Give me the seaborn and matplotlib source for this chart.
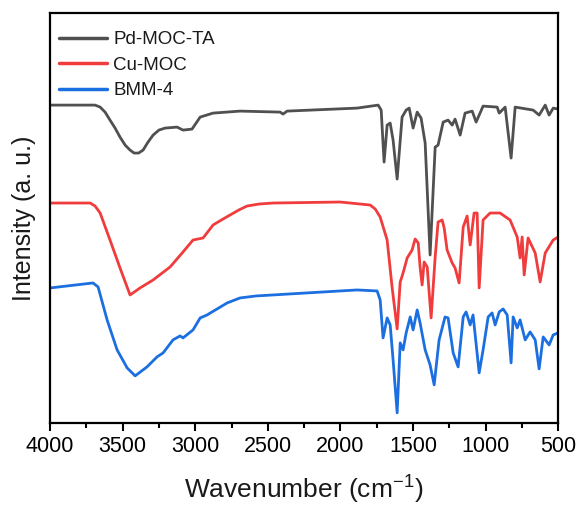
import matplotlib
matplotlib.use("Agg")
import matplotlib.pyplot as plt
import pandas as pd
import seaborn as sns
from matplotlib.ticker import MultipleLocator

# Pd-MOC-TA (top trace)
pd_wn = [4000, 3690, 3655, 3621, 3587, 3552, 3518, 3483, 3449, 3421, 3390, 3359,
         3325, 3290, 3250, 3208, 3125, 3084, 3022,
         2966, 2877, 2691, 2415, 2395, 2367, 1885, 1740, 1719, 1699, 1678, 1657,
         1637, 1609, 1575, 1547, 1526, 1499, 1471, 1444, 1416, 1382, 1347, 1327,
         1292, 1258, 1230, 1210, 1175, 1141, 1092, 1065, 1017, 920, 906, 865,
         824, 796, 672, 631, 589, 562, 534, 500]
pd_int = [318, 318, 316, 311, 303, 295, 286, 278, 273, 270, 270, 273,
          281, 288, 293, 295, 296, 293, 294,
          306, 310, 312, 311, 309, 312, 315, 318, 313, 261, 298, 300,
          283, 244, 306, 313, 315, 295, 311, 305, 280, 168, 276, 278,
          301, 303, 298, 304, 288, 310, 312, 301, 317, 316, 310, 316,
          265, 316, 313, 308, 318, 308, 315, 314]

# Cu-MOC (middle trace)
cu_wn = [4000, 3724, 3690, 3655, 3587, 3518, 3449, 3380, 3290, 3173, 3090, 3015,
         2946, 2877, 2820, 2760, 2700, 2643, 2560, 2464, 2002, 1795, 1760, 1726,
         1678, 1644, 1609, 1588, 1568, 1540,
         1506, 1485, 1464, 1451, 1437, 1423, 1402, 1375, 1347, 1327, 1299, 1285,
         1265, 1230, 1210, 1182, 1154, 1127, 1106, 1079, 1058, 1044, 1017, 969,
         900, 831, 782, 762, 748, 734, 707, 658, 624, 589, 534, 500]
cu_int = [220, 220, 217, 210, 183, 155, 128, 135, 143, 156, 170, 183,
          185, 198, 203, 208, 213, 217, 219, 220, 221, 218, 214, 206,
          183, 136, 94, 141, 150, 165,
          173, 184, 180, 156, 138, 161, 156, 105, 166, 201, 203, 195,
          173, 160, 155, 140, 196, 207, 178, 210, 210, 135, 203, 210,
          210, 203, 186, 165, 186, 148, 185, 170, 141, 170, 183, 186]

# BMM-4 (bottom trace)
bmm_wn = [4000, 3704, 3669, 3607, 3538, 3469, 3414, 3332, 3263, 3221, 3153, 3104,
          3084, 3015, 2966, 2918, 2884, 2780, 2691, 2580, 2464, 1885, 1747, 1726, 1706,
          1678, 1657, 1637, 1609, 1588, 1568, 1547, 1519, 1499, 1471, 1451, 1416,
          1382, 1354, 1320, 1279, 1258, 1223, 1189, 1154, 1134, 1106, 1086, 1044,
          1017, 982, 955, 934, 906, 879, 851, 824, 810, 782, 762, 727,
          693, 658, 631, 603, 562, 534, 500]
bmm_int = [135, 140, 136, 103, 73, 55, 47, 56, 66, 70, 83, 87,
           85, 93, 105, 108, 111, 120, 125, 127, 128, 133, 132, 123, 85,
           105, 98, 63, 10, 80, 73, 90, 106, 93, 113, 100, 73,
           58, 38, 83, 106, 105, 70, 56, 106, 111, 98, 108, 50,
           73, 106, 110, 98, 111, 114, 108, 60, 106, 95, 103, 83,
           91, 83, 54, 86, 78, 88, 90]

labels = ["Pd-MOC-TA", "Cu-MOC", "BMM-4"]
colors = ["#505050", "#f03c3c", "#1c6fe0"]

df = pd.concat([
    pd.DataFrame({"wn": pd_wn, "I": pd_int, "sample": labels[0]}),
    pd.DataFrame({"wn": cu_wn, "I": cu_int, "sample": labels[1]}),
    pd.DataFrame({"wn": bmm_wn, "I": bmm_int, "sample": labels[2]}),
])

sns.set_style("white")
plt.rcParams["font.family"] = ["Liberation Sans", "DejaVu Sans"]
plt.rcParams["mathtext.default"] = "regular"
plt.rcParams["text.color"] = "black"
plt.rcParams["axes.labelcolor"] = "black"
plt.rcParams["xtick.color"] = "black"

fig = plt.figure(figsize=(5.82, 5.07), dpi=100)
ax = fig.add_axes([0.086, 0.166, 0.873, 0.808])
sns.lineplot(data=df, x="wn", y="I", hue="sample", hue_order=labels,
             palette=colors, linewidth=2.0, ax=ax, estimator=None, sort=False)

ax.set_xlim(4000, 500)
ax.set_ylim(0, 410)
ax.xaxis.set_major_locator(MultipleLocator(500))
ax.xaxis.set_minor_locator(MultipleLocator(250))
ax.set_yticks([])
ax.tick_params(axis="x", which="major", direction="out", length=6, width=1.5,
               labelsize=15.5, colors="black", bottom=True, top=False)
ax.tick_params(axis="x", which="minor", direction="out", length=3.5, width=1.5,
               colors="black", bottom=True, top=False)
for sp in ax.spines.values():
    sp.set_linewidth(1.6)
    sp.set_color("black")

ax.set_xlabel("Wavenumber (cm$^{-1}$)", fontsize=19, labelpad=12, color="#1a1a1a")
ax.set_ylabel("Intensity (a. u.)", fontsize=18, labelpad=10, color="#1a1a1a")

leg = ax.legend(loc="upper left", bbox_to_anchor=(-0.018, 1.0), frameon=False,
                fontsize=13.5, handlelength=2.6, handletextpad=0.3,
                labelspacing=0.45, borderaxespad=0.55)
for line in leg.get_lines():
    line.set_linewidth(2.5)
for t in leg.get_texts():
    t.set_color("#1a1a1a")

fig.savefig("out.png", dpi=100)
